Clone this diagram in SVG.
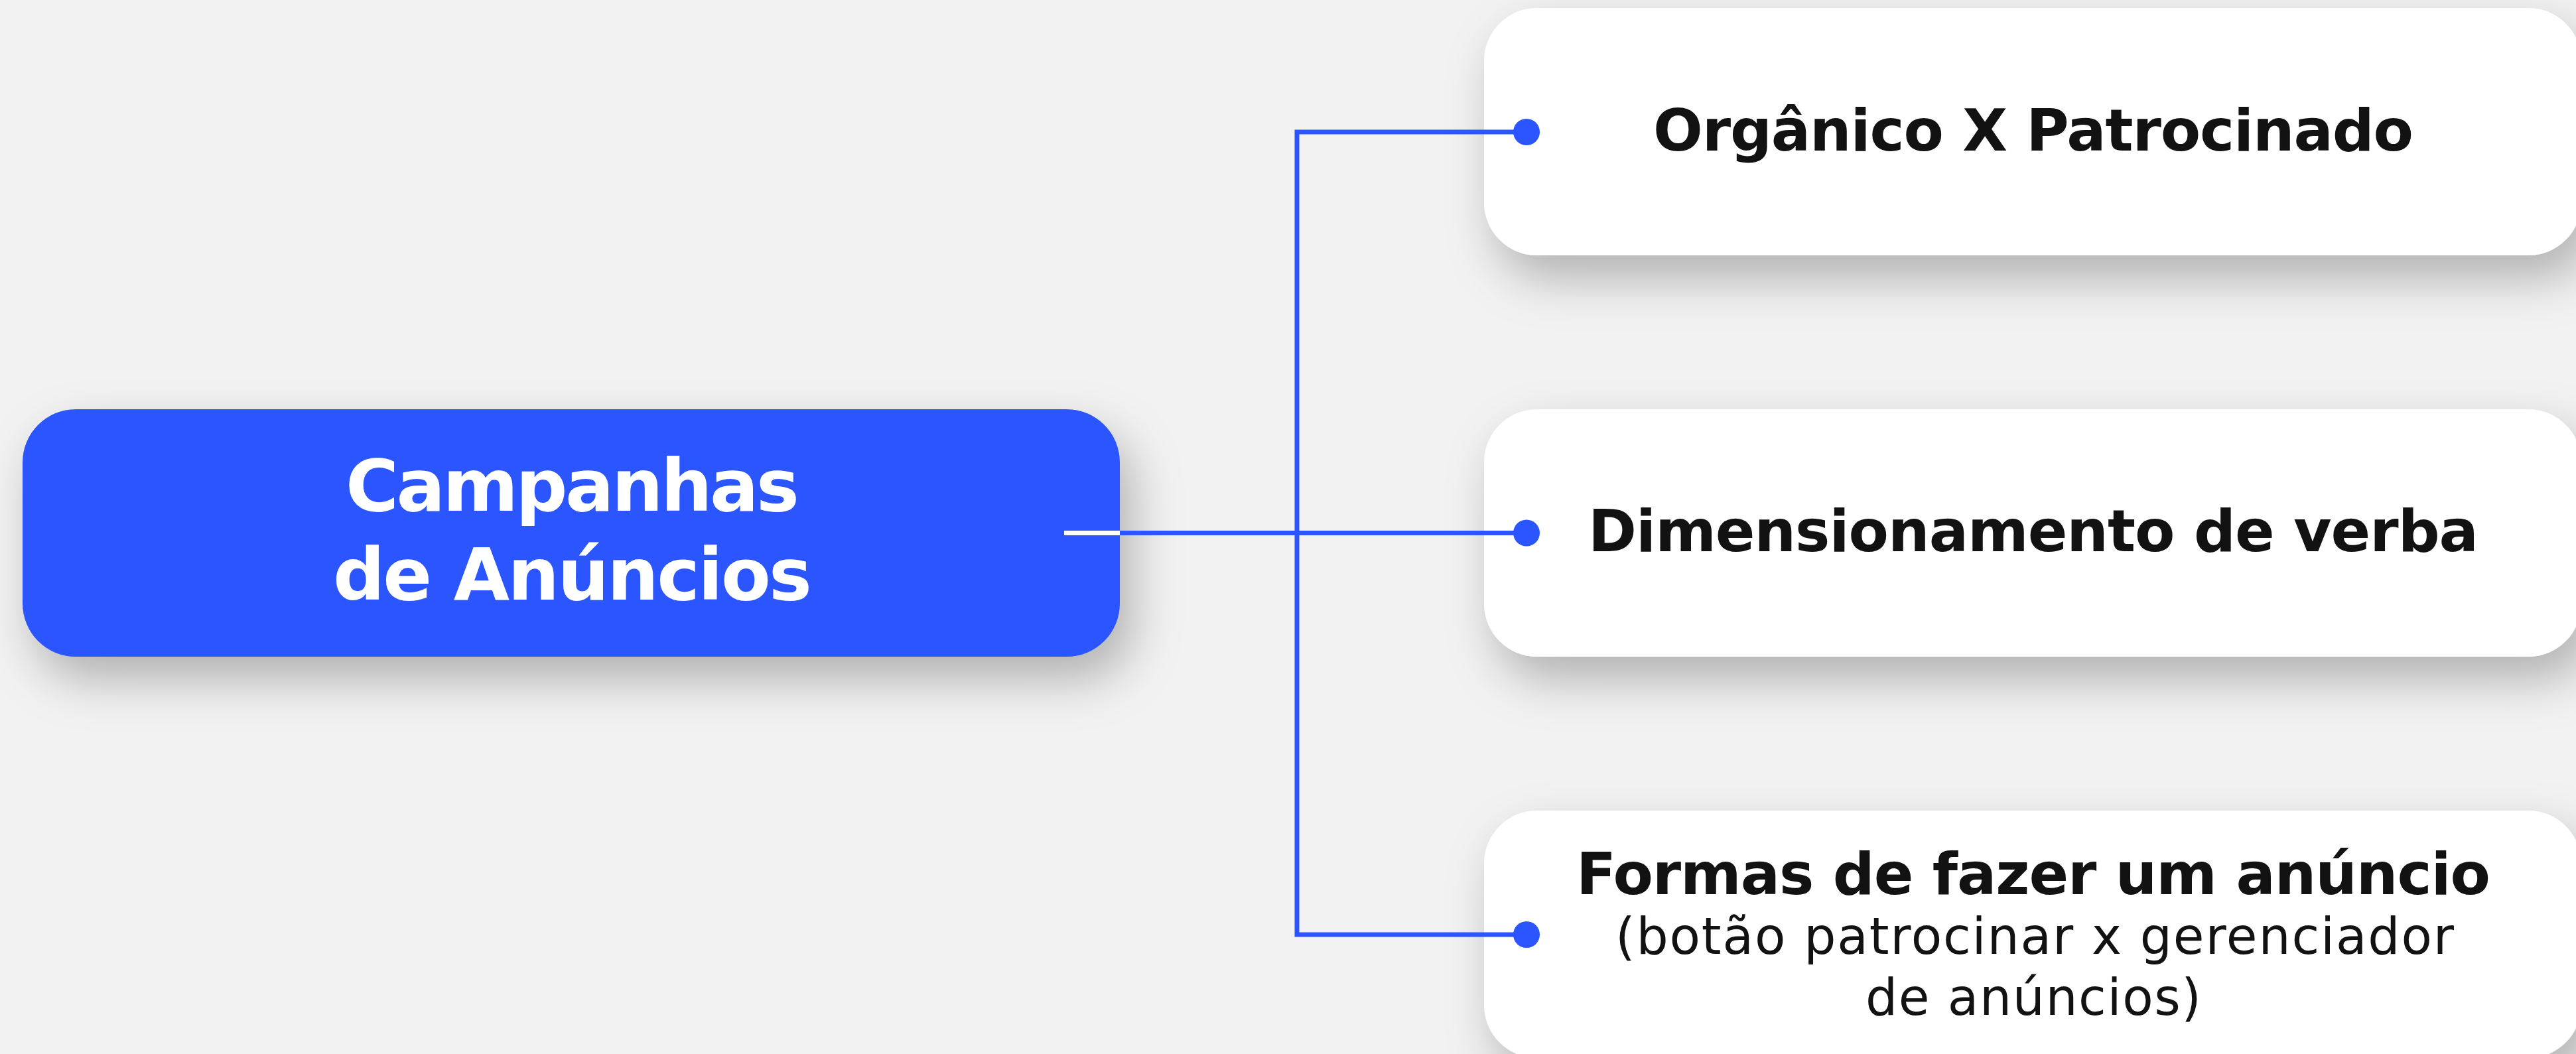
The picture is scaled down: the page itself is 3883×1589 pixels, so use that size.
<svg xmlns="http://www.w3.org/2000/svg" width="3883" height="1589" viewBox="0 0 3883 1589">
  <defs>
    <filter id="shadow" x="-20%" y="-40%" width="140%" height="190%">
      <feDropShadow dx="18" dy="34" stdDeviation="36" flood-color="#000" flood-opacity="0.27"/>
    </filter>
    <style>
      .card { fill: #ffffff; filter: url(#shadow); }
      .hub { fill: #2B55FF; filter: url(#shadow); }
      .wire { stroke: #2B55FF; stroke-width: 7; fill: none; }
      .dot { fill: #2B55FF; }
      .hub-label { font-family: "DejaVu Sans", Inter, "Liberation Sans", sans-serif; font-weight: 700; font-size: 109px; fill: #ffffff; text-anchor: middle; }
      .title { font-family: "DejaVu Sans", Inter, "Liberation Sans", sans-serif; font-weight: 700; font-size: 88px; fill: #121212; text-anchor: middle; }
      .sub { font-family: "DejaVu Sans", Inter, "Liberation Sans", sans-serif; font-weight: 400; font-size: 76px; fill: #121212; text-anchor: middle; }
    </style>
  </defs>

  <rect x="0" y="0" width="3883" height="1589" fill="#F2F2F2"/>

  <!-- cards -->
  <g id="node-organico">
    <rect class="card" x="2237" y="12" width="1654" height="373" rx="80"/>
    <text class="title" x="3065" y="227" textLength="1146">Orgânico X Patrocinado</text>
  </g>
  <g id="node-verba">
    <rect class="card" x="2237" y="617" width="1654" height="373" rx="80"/>
    <text class="title" x="3065" y="831" textLength="1342">Dimensionamento de verba</text>
  </g>
  <g id="node-formas">
    <rect class="card" x="2237" y="1222" width="1654" height="373" rx="80"/>
    <text class="title" x="3065" y="1348" textLength="1378">Formas de fazer um anúncio</text>
    <text class="sub" x="3067" y="1438" textLength="1264">(botão patrocinar x gerenciador</text>
    <text class="sub" x="3065" y="1530" textLength="506">de anúncios)</text>
  </g>

  <g id="node-campanhas">
    <rect class="hub" x="34" y="617" width="1654" height="373" rx="80"/>
    <text class="hub-label" x="863" y="770" textLength="684">Campanhas</text>
    <text class="hub-label" x="863" y="904" textLength="722">de Anúncios</text>
  </g>

  <!-- connectors -->
  <g id="connectors">
    <line x1="1604" y1="803.5" x2="1688" y2="803.5" stroke="#ffffff" stroke-width="7"/>
    <line class="wire" x1="1688" y1="803.5" x2="2301" y2="803.5"/>
    <polyline class="wire" points="2301,199 1955,199 1955,1409 2301,1409"/>
    <circle class="dot" cx="2301" cy="199" r="20"/>
    <circle class="dot" cx="2301" cy="803.5" r="20"/>
    <circle class="dot" cx="2301" cy="1409" r="20"/>
  </g>
</svg>
